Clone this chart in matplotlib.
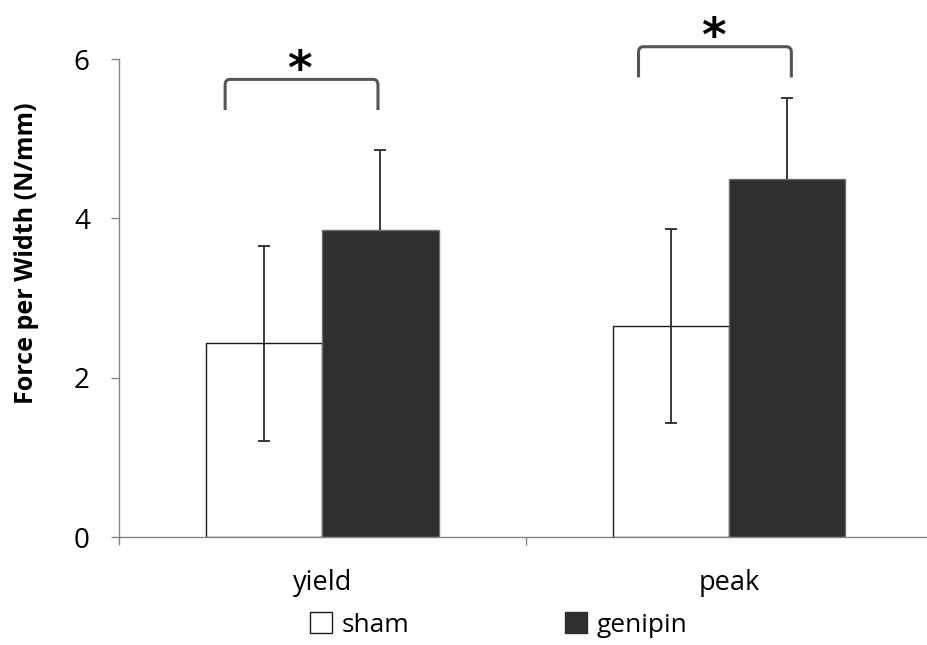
import matplotlib
matplotlib.use("Agg")
import matplotlib.pyplot as plt
from matplotlib.path import Path
from matplotlib.patches import PathPatch, Patch
import numpy as np

plt.rcParams['font.family'] = ['Open Sans', 'DejaVu Sans']

# data
categories = ['yield', 'peak']
sham = [2.43, 2.65]
sham_err = [1.22, 1.22]
genipin = [3.85, 4.49]
genipin_err = [1.01, 1.02]
yticks = [0, 2, 4, 6]

fig = plt.figure(figsize=(9.27, 6.45), dpi=100)
ax = fig.add_axes([0.1284, 0.1674, 0.877, 0.741])

x = np.arange(len(categories))
w = 0.286

ax.bar(x - w / 2, sham, w, color='white', edgecolor='#1a1a1a', linewidth=1.0, zorder=2)
ax.bar(x + w / 2, genipin, w, color='#2f2f2f', edgecolor='#6e6e6e', linewidth=1.0, zorder=2)

ax.errorbar(x - w / 2, sham, yerr=sham_err, fmt='none', ecolor='#2a2a2a',
            elinewidth=1.3, capsize=4.5, capthick=1.3, zorder=3)
# genipin: only the upper half shows above the dark bar
_, caps, _ = ax.errorbar(x + w / 2, genipin, yerr=[[0] * len(genipin), genipin_err],
                         fmt='none', ecolor='#2a2a2a', elinewidth=1.3, capsize=4.5,
                         capthick=1.3, zorder=3)
caps[0].set_visible(False)

# significance brackets (x0, x1, bottom, top) in data units
brackets = [(-0.239, 0.137, 5.36, 5.745), (0.778, 1.154, 5.77, 6.155)]
for x0, x1, yb, yt in brackets:
    rx, ry = 0.012, 0.07
    verts = [(x0, yb), (x0, yt - ry), (x0, yt), (x0 + rx, yt),
             (x1 - rx, yt), (x1, yt), (x1, yt - ry), (x1, yb)]
    codes = [Path.MOVETO, Path.LINETO, Path.CURVE3, Path.CURVE3,
             Path.LINETO, Path.CURVE3, Path.CURVE3, Path.LINETO]
    ax.add_patch(PathPatch(Path(verts, codes), fill=False, edgecolor='#555555',
                           linewidth=2.2, clip_on=False, zorder=4))
    ax.text((x0 + x1) / 2 - 0.005, yt + 0.1, '*', ha='center', va='center',
            fontsize=34, fontweight='bold', family='DejaVu Sans', color='black', clip_on=False)

ax.set_ylim(0, 6)
ax.set_xlim(-0.5, 1.5)
ax.set_yticks(yticks)
ax.set_yticklabels([str(t) for t in yticks], fontsize=20)
ax.set_xticks(x)
ax.set_xticklabels(categories, fontsize=19.5)
ax.set_xticks([-0.5, 0.5, 1.5], minor=True)
ax.tick_params(axis='x', which='major', length=0, pad=23)
ax.tick_params(axis='x', which='minor', length=6, width=1, color='#868686', direction='out')
ax.tick_params(axis='y', length=6, width=1, color='#868686', direction='out', pad=15)

for s in ['top', 'right']:
    ax.spines[s].set_visible(False)
for s in ['left', 'bottom']:
    ax.spines[s].set_color('#868686')
    ax.spines[s].set_linewidth(1.0)

ax.set_ylabel('Force per Width (N/mm)', fontsize=18, fontweight='bold')
ax.yaxis.set_label_coords(-0.099, 0.593)

handles = [Patch(facecolor='white', edgecolor='#1a1a1a', linewidth=1.0),
           Patch(facecolor='#2f2f2f', edgecolor='#2f2f2f')]
fig.legend(handles, ['sham', 'genipin'], loc='center left', bbox_to_anchor=(0.334, 0.031),
           ncol=2, frameon=False, fontsize=19, handlelength=0.85, handleheight=0.85,
           handletextpad=0.35, columnspacing=5.9, borderaxespad=0, borderpad=0)

fig.savefig('out.png', dpi=100)
